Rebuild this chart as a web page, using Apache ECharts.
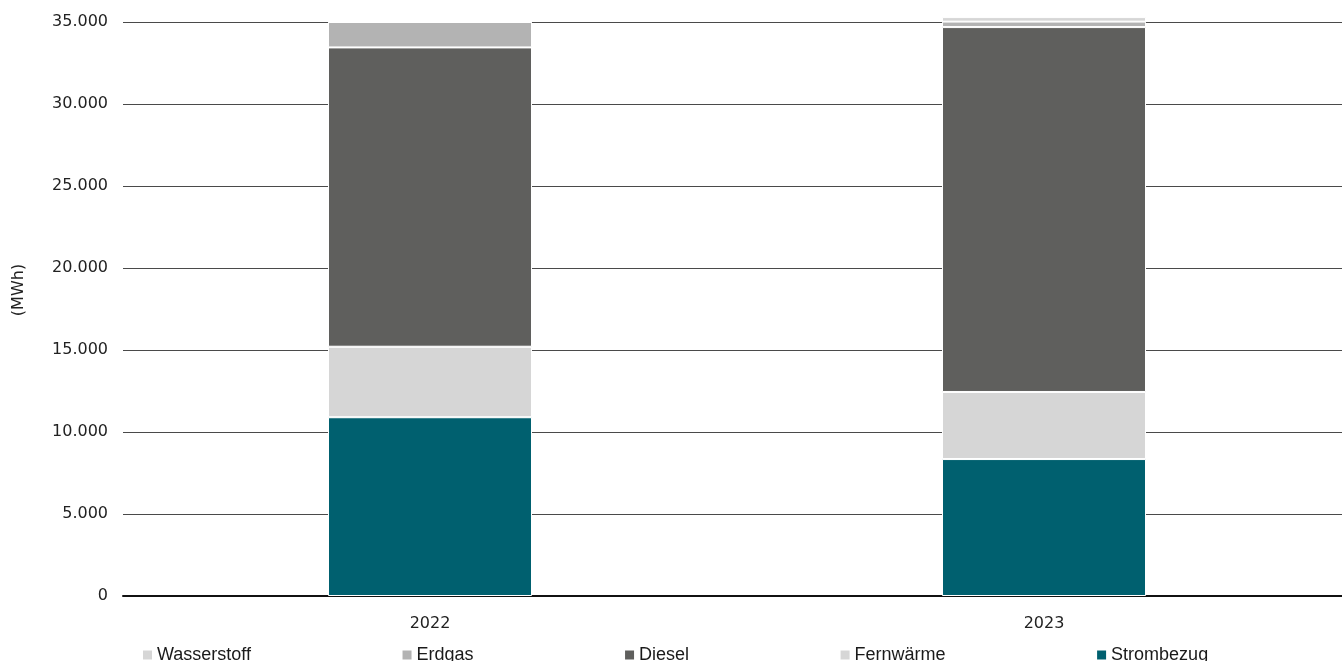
<!DOCTYPE html>
<html>
<head>
<meta charset="utf-8">
<script src="https://cdn.jsdelivr.net/npm/echarts@6/dist/echarts.min.js"></script>
<style>html,body{margin:0;padding:0;background:#fff}#c{width:1342px;height:661px}</style>
</head>
<body>
<div id="c"></div>
<script>
const categories = ['2022', '2023'];
const strombezug = [10900, 8350];
const fernwaerme = [4300, 4090];
const diesel = [18250, 22250];
const erdgas = [1550, 330];
const wasserstoff = [0, 280];
const yTicks = { min: 0, max: 35000, interval: 5000 };

const colors = {
  Wasserstoff: '#d6d6d6',
  Erdgas: '#b3b3b3',
  Diesel: '#5f5f5d',
  'Fernwärme': '#d6d6d6',
  Strombezug: '#00606f'
};

function mk(name, data) {
  return {
    name: name, type: 'bar', stack: 'total', data: data,
    barWidth: 204, clip: false,
    itemStyle: { color: colors[name], borderColor: '#ffffff', borderWidth: 1 },
    emphasis: { disabled: true }
  };
}

const chart = echarts.init(document.getElementById('c'));
chart.setOption({
  animation: false,
  grid: { left: 123, width: 1228, top: 22, bottom: 65, containLabel: false, outerBoundsMode: 'none' },
  legend: {
    data: ['Wasserstoff', 'Erdgas', 'Diesel', 'Fernwärme', 'Strombezug'],
    left: 136, bottom: -8, itemGap: 149.5, itemWidth: 11, itemHeight: 11,
    icon: 'rect',
    textStyle: { fontFamily: 'Liberation Sans', fontSize: 18, color: '#1a1a1a', padding: [0, 0, 0, -1] }
  },
  xAxis: {
    type: 'category', data: categories,
    axisLine: { lineStyle: { color: '#111', width: 2 } },
    axisTick: { show: false },
    axisLabel: { fontFamily: 'DejaVu Sans', fontSize: 16, color: '#222', margin: 20 }
  },
  yAxis: {
    type: 'value', min: yTicks.min, max: yTicks.max, interval: yTicks.interval,
    name: '(MWh)', nameLocation: 'middle', nameGap: 96, nameRotate: 90,
    nameTextStyle: { fontFamily: 'DejaVu Sans', fontSize: 16, color: '#222', padding: [0, 0, 0, 38] },
    axisLine: { show: false }, axisTick: { show: false },
    splitLine: { lineStyle: { color: '#4a4a4a', width: 1 } },
    axisLabel: {
      fontFamily: 'DejaVu Sans', fontSize: 16, color: '#222', margin: 15,
      formatter: v => v.toString().replace(/\B(?=(\d{3})+(?!\d))/g, '.')
    }
  },
  series: [
    mk('Strombezug', strombezug),
    mk('Fernwärme', fernwaerme),
    mk('Diesel', diesel),
    mk('Erdgas', erdgas),
    mk('Wasserstoff', wasserstoff)
  ]
});
</script>
</body>
</html>
